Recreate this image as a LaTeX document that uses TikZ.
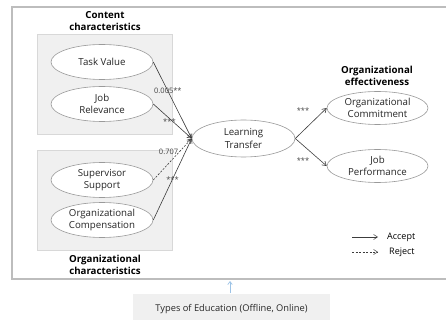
\documentclass[tikz,border=0pt]{standalone}
\usepackage{fontspec}
\setmainfont{Open Sans}
\usetikzlibrary{arrows.meta,shapes.geometric}
\definecolor{panel}{HTML}{F0F0F0}
\definecolor{framegray}{HTML}{BDBDBD}
\definecolor{ovalgray}{HTML}{9A9A9A}
\definecolor{linkgray}{HTML}{3C3C3C}
\definecolor{hintblue}{HTML}{9DC3E6}
\tikzset{
  construct/.style={ellipse, draw=ovalgray, line width=0.6pt, fill=white,
    minimum width=102pt, minimum height=35pt, inner sep=0pt,
    align=center, font=\fontsize{9.7}{12.5}\selectfont, text=black!85},
  group/.style={fill=panel, draw=panel!90!black, line width=0.3pt},
  heading/.style={align=center, font=\fontsize{9.7}{12.5}\selectfont\bfseries},
  path/.style={draw=linkgray, line width=0.6pt, -{Straight Barb[length=4pt,width=5pt]}},
  rejected/.style={path, dashed, dash pattern=on 2pt off 1.5pt},
  coef/.style={font=\fontsize{7.5}{9}\selectfont, text=black!75, inner sep=1pt},
  legendtext/.style={font=\fontsize{9}{11}\selectfont, anchor=west, inner sep=0pt}
}
\begin{document}
\begin{tikzpicture}[x=1pt,y=-1pt]
\useasboundingbox (0,0) rectangle (446,320);

% outer frame of the model
\draw[framegray, line width=1.2pt] (447,7) -- (12,7) -- (12,279) -- (447,279);

% grouping panels
\path[group] (37,34) rectangle (172,134);
\path[group] (37,150) rectangle (172,250);

% group headings
\node[heading] (hcontent) at (105,21) {Content\\characteristics};
\node[heading] (horg) at (105,265) {Organizational\\characteristics};
\node[heading] (heff) at (377,76) {Organizational\\effectiveness};

% constructs
\node[construct] (tv) at (102,62) {Task Value};
\node[construct] (jr) at (102,104) {Job\\Relevance};
\node[construct] (ss) at (102,180) {Supervisor\\Support};
\node[construct] (oc) at (102,220) {Organizational\\Compensation};
\node[construct, minimum width=103pt, minimum height=37pt] (lt) at (243.5,138.5) {Learning\\Transfer};
\node[construct, minimum width=101pt, minimum height=33pt] (ocm) at (377.5,108) {Organizational\\Commitment};
\node[construct, minimum width=101pt, minimum height=33pt] (jp) at (377.5,166) {Job\\Performance};

% structural paths
\draw[path] (tv.east) -- node[coef, pos=0.38] {0.005**} (lt.west);
\draw[path] (jr.east) -- node[coef, pos=0.42, yshift=-3pt] {***} (lt.west);
\draw[rejected] (ss.east) -- node[coef, pos=0.68, anchor=east] {0.707} (lt.west);
\draw[path] (oc.east) -- node[coef, pos=0.5] {***} (lt.west);
\draw[path] (lt.east) -- (ocm.west);
\draw[path] (lt.east) -- (jp.west);
\node[coef] (s1) at (303,111) {***};
\node[coef] (s2) at (303,161) {***};

% legend
\coordinate (la1) at (352,237);
\coordinate (la2) at (378,237);
\coordinate (lr1) at (352,252);
\coordinate (lr2) at (378,252);
\draw[path, line width=0.5pt] (la1) -- (la2);
\draw[rejected, line width=0.5pt] (lr1) -- (lr2);
\node[legendtext] (acc) at (387,237) {Accept};
\node[legendtext] (rej) at (389,252) {Reject};

% moderator box
\path[fill=panel] (133,294) rectangle (330,322);
\node[font=\fontsize{9.3}{11}\selectfont, text=black!85] (edu) at (231.5,309) {Types of Education (Offline, Online)};
\coordinate (frameb) at (230,281);
\draw[hintblue, line width=0.7pt, -{Straight Barb[length=3pt,width=4.5pt]}] (230,293) -- (frameb);
\end{tikzpicture}
\end{document}
